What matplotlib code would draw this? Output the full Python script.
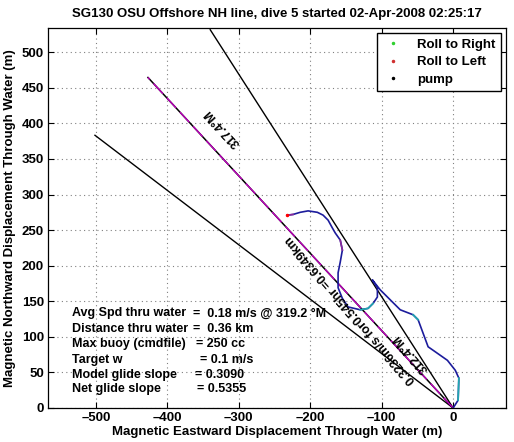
import numpy as np
import matplotlib.pyplot as plt
from matplotlib.lines import Line2D

plt.rcParams['font.family'] = ['Liberation Sans', 'DejaVu Sans']
plt.rcParams['font.weight'] = 'bold'
plt.rcParams['axes.labelweight'] = 'bold'
plt.rcParams['axes.titleweight'] = 'bold'
plt.rcParams['font.size'] = 9.5

# dive track through water, magnetic east / north (m)
track_x = [0, 7, 8, 3, -8, -25, -35, -42, -49, -56, -74, -88, -102, -113,
           -106, -106, -112, -119, -130, -147, -155, -161, -161, -158, -155,
           -158, -165, -169, -175, -182, -190, -203, -214, -224, -232]
track_y = [0, 11, 42, 53, 67, 79, 86, 105, 124, 131, 138, 152, 166, 180,
           169, 156, 147, 140, 138, 142, 154, 169, 190, 205, 222,
           236, 246, 253, 264, 271, 275, 277, 275, 272, 271]
teal_spans = [(1, 2), (8, 9), (16, 18)]
purple_spans = [(24, 25), (33, 34)]

# heading lines (deg magnetic) drawn from the dive start
heading = 317.4
bound_headings = [327.4, 307.4]
line_len = 631.0

title = 'SG130 OSU Offshore NH line, dive 5 started 02-Apr-2008 02:25:17'
heading_label = '317.4\u00b0M'
current_label = '312.4\u00b0M'
drift_label = '0.3236m/s for0.545hr =0.6349km'

stat_names = ['Avg Spd thru water', 'Distance thru water', 'Max buoy (cmdfile)',
              'Target w', 'Model glide slope', 'Net glide slope']
stat_values = ['=  0.18 m/s @ 319.2 \u00b0M', '=  0.36 km', '= 250 cc',
               '= 0.1 m/s', '= 0.3090', '= 0.5355']

xticks = np.arange(-500, 1, 100)
yticks = np.arange(0, 501, 50)


def endpoint(hdg, length):
    a = np.deg2rad(hdg)
    return length * np.sin(a), length * np.cos(a)


fig = plt.figure(figsize=(5.14, 4.42), dpi=100)
ax = fig.add_axes([48 / 514, 34 / 442, 458 / 514, 380 / 442])

for h in bound_headings:
    ex, ey = endpoint(h, line_len)
    ax.plot([0, ex], [0, ey], color='k', lw=1.0)

ex, ey = endpoint(heading, line_len)
ax.plot([0, ex], [0, ey], color='k', lw=1.1)
ax.plot([0, ex], [0, ey], color='m', lw=1.0, dashes=(10, 4))

# track
ax.plot(track_x, track_y, color='#1c1c9c', lw=1.2)
for a, b in teal_spans:
    ax.plot(track_x[a:b + 1], track_y[a:b + 1], color='#20a8b0', lw=1.2)
for a, b in purple_spans:
    ax.plot(track_x[a:b + 1], track_y[a:b + 1], color='#8a2a9a', lw=1.2)
ax.plot(track_x[-1], track_y[-1], '.', color='r', ms=3)

# rotated labels along the lines
ax.text(-322, 394, heading_label, rotation=90 - heading + 360,
        ha='center', va='center', rotation_mode='anchor', fontsize=9)
ax.text(-59, 77, current_label, rotation=131,
        ha='center', va='center', rotation_mode='anchor', fontsize=9)
ax.text(-143, 138, drift_label, rotation=131,
        ha='center', va='center', rotation_mode='anchor', fontsize=9)

# stats block
ys = [133, 111, 90, 67, 46, 27]
xs_val = [-364, -364, -360, -354, -361, -358]
for name, val, y, xv in zip(stat_names, stat_values, ys, xs_val):
    ax.text(-534, y, name, ha='left', va='center', fontsize=9)
    ax.text(xv, y, val, ha='left', va='center', fontsize=9)

ax.set_xlim(-567, 74)
ax.set_ylim(0, 534)
ax.set_xticks(xticks)
ax.set_xticklabels(['\u2013%d' % -v if v < 0 else '%d' % v for v in xticks])
ax.set_yticks(yticks)
ax.tick_params(direction='in', top=True, right=True, length=4, width=0.8, pad=3)
ax.grid(True, color='0.5', linestyle=(0, (1, 3)), lw=0.8)
for s in ax.spines.values():
    s.set_linewidth(0.9)

ax.set_title(title, fontsize=9.5, pad=8)
ax.set_xlabel('Magnetic Eastward Displacement Through Water (m)', labelpad=1)
ax.set_ylabel('Magnetic Northward Displacement Through Water (m)', labelpad=4)

handles = [Line2D([], [], ls='none', marker='.', ms=3, color=c)
           for c in ['#30d030', '#d03030', 'k']]
ax.legend(handles, ['Roll to Right', 'Roll to Left', 'pump'], loc='upper right',
          fancybox=False, edgecolor='k', framealpha=1, borderaxespad=0.4,
          handlelength=1.6, handletextpad=1.0, labelspacing=0.4,
          prop={'weight': 'bold', 'size': 9.5})

fig.savefig('out.png', dpi=100)
